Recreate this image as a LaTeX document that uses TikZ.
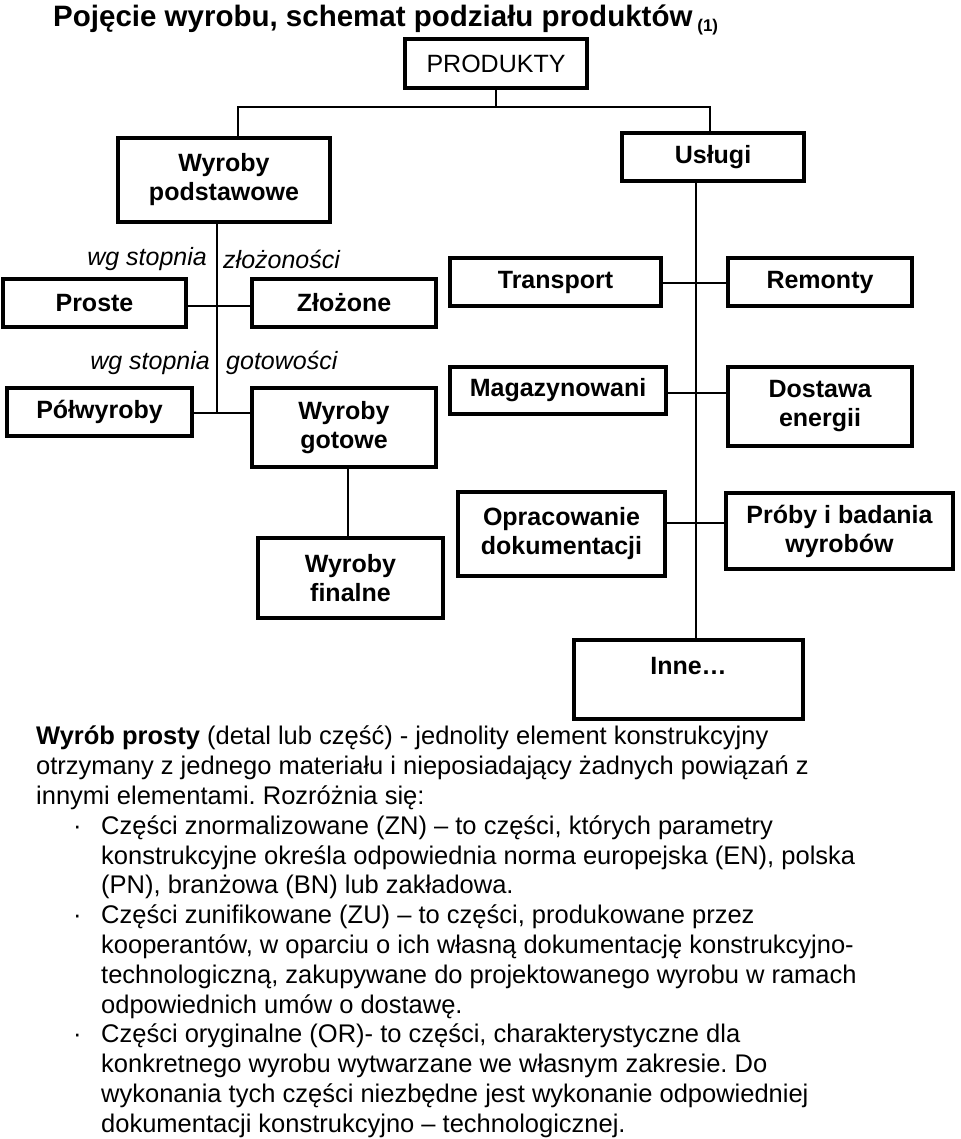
\documentclass[tikz,border=0pt]{standalone}
\usepackage{fontspec}
\setmainfont{Liberation Sans}
\begin{document}
\begin{tikzpicture}[x=1pt,y=-1pt,
  box/.style={draw, line width=4pt, align=center, inner sep=0pt,
    font=\fontsize{25}{29}\selectfont\bfseries},
  conn/.style={line width=2.7pt},
  lab/.style={inner sep=0pt, font=\fontsize{25}{29}\selectfont\itshape}]
\useasboundingbox (0,0) rectangle (960,1139);
% title
\node[anchor=base west, inner sep=0pt, font=\fontsize{29.5}{33}\selectfont\bfseries] (title) at (53,27)
  {Pojęcie wyrobu, schemat podziału produktów\,{\fontsize{17}{17}\selectfont\raisebox{-5pt}{(1)}}};
% boxes
\node[box, minimum width=182, minimum height=49] (prod) at (496,63.5) {\mdseries PRODUKTY};
\node[box, minimum width=212, minimum height=84] (wp) at (224,180) {Wyroby\\podstawowe};
\node[box, minimum width=182, minimum height=48] (usl) at (713,157) {Usługi};
\node[box, minimum width=183, minimum height=48] (proste) at (94.5,303) {Proste};
\node[box, minimum width=184, minimum height=48] (zloz) at (344,303) {Złożone};
\node[box, minimum width=185, minimum height=48] (polw) at (99.5,412) {Półwyroby};
\node[box, minimum width=184, minimum height=79] (wgot) at (344,427.5) {Wyroby\\gotowe};
\node[box, minimum width=185, minimum height=80] (wfin) at (350.5,578) {Wyroby\\finalne};
\node[box, minimum width=211, minimum height=48] (trans) at (555.5,282) {Transport};
\node[box, minimum width=184, minimum height=48] (rem) at (820,282) {Remonty};
\node[box, minimum width=216, minimum height=47] (mag) at (558,390.5) {Magazynowani};
\node[box, minimum width=184, minimum height=79] (dost) at (820,406.5) {Dostawa\\energii};
\node[box, minimum width=207, minimum height=84] (oprac) at (561.5,534) {Opracowanie\\dokumentacji};
\node[box, minimum width=227, minimum height=76] (proby) at (839.5,531) {Próby i badania\\wyrobów};
\node[box, minimum width=229, text height=34pt, text depth=45pt, anchor=north] (inne) at (688.5,638) {Inne…};
% labels
\node[lab, anchor=east] (wg1) at (207,259) {wg stopnia};
\node[lab, anchor=west] (zl1) at (223,259) {złożoności};
\node[lab, anchor=east] (wg2) at (210,363) {wg stopnia};
\node[lab, anchor=west] (go1) at (226,363) {gotowości};
% helper coordinates
\coordinate (bus) at (0,107);
\coordinate (bL) at (238,107);
\coordinate (bR) at (710,107);
\coordinate (tL) at (217,0);
\coordinate (tM) at (348,0);
\coordinate (tR) at (696,0);
\coordinate (y1) at (0,306);
\coordinate (y2) at (0,413);
\coordinate (y3) at (0,283);
\coordinate (y4) at (0,393);
\coordinate (y5) at (0,523);
% connectors
\draw[conn] (prod.south) -- (prod.south |- bus);
\draw[conn] (bL |- wp.north) -- (bL) -- (bR) -- (bR |- usl.north);
\draw[conn] (tL |- wp.south) -- (tL |- y2);
\draw[conn] (proste.east |- y1) -- (zloz.west |- y1);
\draw[conn] (polw.east |- y2) -- (wgot.west |- y2);
\draw[conn] (tM |- wgot.south) -- (tM |- wfin.north);
\draw[conn] (tR |- usl.south) -- (tR |- inne.north);
\draw[conn] (trans.east |- y3) -- (rem.west |- y3);
\draw[conn] (mag.east |- y4) -- (dost.west |- y4);
\draw[conn] (oprac.east |- y5) -- (proby.west |- y5);
% body text
\node[anchor=north west, inner sep=0pt, align=left, font=\fontsize{25.5}{29.8}\selectfont\frenchspacing] (body) at (36,726) {%
\textbf{Wyrób prosty} (detal lub część) - jednolity element konstrukcyjny\\
otrzymany z jednego materiału i nieposiadający żadnych powiązań z\\
innymi elementami. Rozróżnia się:\\
\hspace*{37pt}\makebox[28pt][l]{·}Części znormalizowane (ZN) – to części, których parametry\\
\hspace*{65pt}konstrukcyjne określa odpowiednia norma europejska (EN), polska\\
\hspace*{65pt}(PN), branżowa (BN) lub zakładowa.\\
\hspace*{37pt}\makebox[28pt][l]{·}Części zunifikowane (ZU) – to części, produkowane przez\\
\hspace*{65pt}kooperantów, w oparciu o ich własną dokumentację konstrukcyjno-\\
\hspace*{65pt}technologiczną, zakupywane do projektowanego wyrobu w ramach\\
\hspace*{65pt}odpowiednich umów o dostawę.\\
\hspace*{37pt}\makebox[28pt][l]{·}Części oryginalne (OR)- to części, charakterystyczne dla\\
\hspace*{65pt}konkretnego wyrobu wytwarzane we własnym zakresie. Do\\
\hspace*{65pt}wykonania tych części niezbędne jest wykonanie odpowiedniej\\
\hspace*{65pt}dokumentacji konstrukcyjno – technologicznej.};
\end{tikzpicture}
\end{document}
